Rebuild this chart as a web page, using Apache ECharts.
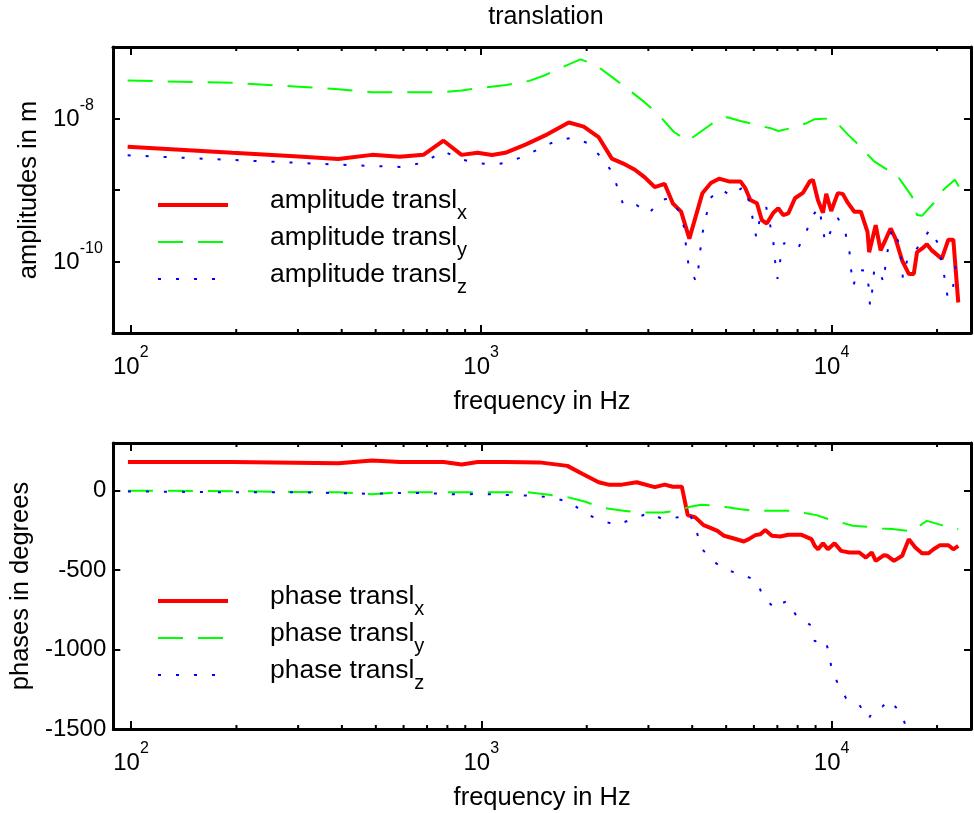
<!DOCTYPE html>
<html><head><meta charset="utf-8">
<script src="https://cdn.jsdelivr.net/npm/echarts@6/dist/echarts.min.js"></script>
<style>html,body{margin:0;padding:0;background:#fff}#c{width:974px;height:813px}</style>
</head><body><div id="c"></div><script>
// ---------- data (frequencies in Hz) ----------
const ampXFreq = [98,195,293,391,488,586,684,781,879,977,1074,1172,1343,1545,1779,1962,2163,2360,2545,2746,2931,3128,3338,3523,3721,3928,4280,4523,4773,5093,5495,5675,5865,6124,6324,6532,6823,7047,7278,7527,7863,8299,8670,8851,9141,9450,9656,9975,10420,10765,11120,11614,12120,12664,12803,13365,13804,14264,14738,15225,15904,16612,17162,17534,18113,18711,19330,20627,21544,22259,22994];
const ampX = [4.03e-9,3.31e-9,2.96e-9,2.72e-9,3.10e-9,2.91e-9,3.10e-9,4.89e-9,3.10e-9,3.31e-9,3.08e-9,3.31e-9,4.34e-9,6.0e-9,8.79e-9,7.71e-9,5.50e-9,2.75e-9,2.34e-9,1.92e-9,1.50e-9,1.10e-9,1.22e-9,6.52e-10,4.97e-10,2.09e-10,9.03e-10,1.25e-9,1.44e-9,1.32e-9,1.32e-9,1.06e-9,7.26e-10,6.52e-10,3.79e-10,3.40e-10,4.81e-10,5.55e-10,4.46e-10,4.71e-10,7.67e-10,9.20e-10,1.32e-9,1.38e-9,7.26e-10,4.81e-10,8.83e-10,5.08e-10,9.04e-10,8.83e-10,6.65e-10,4.97e-10,4.97e-10,2.59e-10,1.35e-10,3.22e-10,1.43e-10,2.02e-10,2.90e-10,2.09e-10,1.03e-10,6.70e-11,6.70e-11,1.35e-10,1.51e-10,1.74e-10,1.43e-10,1.09e-10,2.02e-10,2.02e-10,2.67e-11];

const ampYFreq = [98,195,293,391,488,586,684,781,879,1002,1179,1372,1514,1667,1920,2117,2385,2602,2931,3196,3549,3884,4329,4773,5039,5495,6124,6745,7047,7775,8480,8954,9872,10304,11120,11995,12523,13228,14424,14902,15565,16077,16970,17534,18113,19543,20627,21073,22491,23084];
const ampY = [3.40e-8,3.15e-8,2.81e-8,2.56e-8,2.33e-8,2.33e-8,2.33e-8,2.33e-8,2.47e-8,2.68e-8,2.95e-8,3.36e-8,3.99e-8,4.97e-8,6.71e-8,5.65e-8,3.67e-8,2.65e-8,1.68e-8,1.15e-8,6.47e-9,4.83e-9,7.06e-9,1.0e-8,1.04e-8,9.25e-9,8.13e-9,7.23e-9,6.68e-9,7.46e-9,8.59e-9,9.77e-9,1.0e-8,8.95e-9,6.0e-9,4.20e-9,3.31e-9,2.52e-9,1.92e-9,1.55e-9,1.47e-9,1.18e-9,8.09e-10,4.46e-10,4.35e-10,6.52e-10,9.51e-10,1.06e-9,1.39e-9,1.12e-9];

const ampZFreq = [98,195,293,391,586,684,781,879,977,1074,1172,1328,1464,1632,1819,2027,2187,2360,2454,2545,2776,3008,3267,3449,3680,3802,3844,3909,4102,4164,4219,4280,4501,4827,5171,5616,5840,5967,6100,6232,6510,6682,6827,6902,7006,7158,7318,8031,8444,8814,9208,9407,9593,9909,10418,10952,11241,11361,11538,11921,12523,12803,12871,13083,13228,13665,14052,14264,14519,14902,15565,15830,15975,16425,17045,18027,19110,20191,20627,21073,21450,22115,22407,22746];
const ampZ = [3.06e-9,2.63e-9,2.41e-9,2.26e-9,2.10e-9,2.41e-9,3.49e-9,2.67e-9,2.39e-9,2.26e-9,2.39e-9,2.96e-9,3.77e-9,4.83e-9,5.40e-9,4.48e-9,2.96e-9,1.82e-9,1.06e-9,6.17e-10,6.17e-10,4.71e-10,7.26e-10,7.67e-10,4.97e-10,2.90e-10,1.59e-10,8.79e-11,5.27e-11,7.64e-11,1.40e-10,2.46e-10,7.67e-10,1.03e-9,8.26e-10,1.12e-9,6.52e-10,3.79e-10,2.16e-10,3.79e-10,5.73e-10,3.22e-10,1.81e-10,1.01e-10,5.70e-11,1.13e-10,1.81e-10,1.54e-10,2.51e-10,4.31e-10,5.73e-10,3.22e-10,1.84e-10,2.54e-10,4.08e-10,2.51e-10,1.43e-10,7.87e-11,4.58e-11,7.64e-11,7.46e-11,4.12e-11,2.39e-11,4.12e-11,7.46e-11,7.89e-11,5.11e-11,9.08e-11,1.63e-10,2.90e-10,1.81e-10,1.03e-10,5.89e-11,1.03e-10,1.22e-10,1.90e-10,2.80e-10,1.74e-10,9.77e-11,5.52e-11,3.13e-11,3.50e-11,6.34e-11,1.13e-10];

const phXFreq = [98,195,293,391,488,586,684,781,879,977,1172,1465,1761,1941,2163,2308,2518,2776,3128,3338,3523,3736,3884,4083,4310,4473,4721,4931,5262,5616,5801,6060,6259,6465,6752,7133,7527,8209,8759,8954,9148,9450,9761,10195,10644,11241,12000,12523,13022,13365,14118,14424,15066,15904,16612,17338,18113,18918,19543,20399,21544,22259,22994];
const phX = [180,180,176,172,190,180,180,180,165,180,180,178,156,106,53,38,38,53,22,38,25,25,-154,-168,-217,-231,-253,-284,-301,-320,-305,-280,-274,-248,-284,-288,-278,-278,-305,-348,-369,-331,-369,-331,-379,-389,-389,-421,-389,-442,-406,-410,-442,-410,-305,-358,-394,-394,-369,-343,-343,-369,-348];

const phYFreq = [98,195,293,391,488,586,977,1172,1350,1497,1742,1984,2187,2545,2837,3300,3656,3884,4238,4721,5039,5436,5994,7052,7863,8388,9047,9975,10644,11488,12664,13955,14902,16425,17418,18113,18711,20627,22014,22994];
const phY = [0,-3,-8,-10,-22,-10,-10,-10,-10,-21,-38,-70,-105,-126,-137,-137,-126,-105,-88,-95,-105,-116,-126,-126,-126,-141,-154,-185,-200,-221,-228,-238,-242,-253,-248,-210,-190,-217,-225,-242];

const phZFreq = [98,195,293,391,488,586,684,879,977,1172,1433,1604,1799,1962,2187,2423,2698,3008,3300,3639,3927,4102,4238,4523,4953,5554,6124,6368,6902,7133,7478,7945,8670,8954,9553,9761,9900,9975,10418,10995,11995,12748,13228,13955,14582,15830,16425,17500];
const phZ = [-5,-10,-10,-15,-20,-15,-15,-25,-20,-27,-32,-46,-73,-141,-185,-217,-179,-141,-179,-168,-141,-242,-358,-432,-497,-527,-569,-667,-743,-712,-695,-790,-843,-948,-935,-996,-1060,-1110,-1216,-1306,-1348,-1437,-1375,-1359,-1317,-1401,-1509,-1650];

const minorTickHz = [200,300,400,500,600,700,800,900,2000,3000,4000,5000,6000,7000,8000,9000,20000];
const phaseTicks = [0,-500,-1000,-1500];

// ---------- chart ----------
const FONT = "'Liberation Sans', Arial, Helvetica, sans-serif";
const zip = (f, v) => f.map((x, i) => [x, v[i]]);

function powLabel(v, onlyEven) {
  const l = Math.log10(v), e = Math.round(l);
  if (Math.abs(l - e) > 1e-6) return '';
  if (onlyEven && e % 2 !== 0) return '';
  return '{b|10}{s|' + e + '}';
}
const supRich = {
  b: { fontSize: 24, fontFamily: FONT, color: '#000', lineHeight: 34, verticalAlign: 'bottom' },
  s: { fontSize: 16, fontFamily: FONT, color: '#000', verticalAlign: 'top' }
};
const frameLine = { show: true, onZero: false, lineStyle: { color: '#000', width: 3 } };
const tickStyle = { color: '#000', width: 2 };

function xAxes(grid) {
  return [
    { gridIndex: grid, type: 'log', logBase: 10, min: 89, max: 25000, position: 'bottom',
      axisLine: frameLine, axisTick: { inside: true, length: 8, lineStyle: tickStyle },
      axisLabel: { formatter: v => powLabel(v, false), rich: supRich, margin: 12 },
      splitLine: { show: false },
      name: 'frequency in Hz', nameLocation: 'middle', nameGap: 56,
      nameTextStyle: { fontSize: 25.5, fontFamily: FONT, color: '#000' } },
    { gridIndex: grid, type: 'log', logBase: 10, min: 89, max: 25000, position: 'top',
      axisLine: frameLine, axisTick: { inside: true, length: 8, lineStyle: tickStyle },
      axisLabel: { show: false }, splitLine: { show: false } }
  ];
}

function legendFmt(name) {
  const i = name.lastIndexOf('_');
  return '{b|' + name.slice(0, i) + '}{s|' + name.slice(i + 1) + '}';
}
const legRich = {
  b: { fontSize: 26.5, fontFamily: FONT, color: '#000', verticalAlign: 'top', lineHeight: 36, padding: [0, 0, 0, 37] },
  s: { fontSize: 20, fontFamily: FONT, color: '#000', verticalAlign: 'bottom' }
};

function minorTickSeries(xi, yi, yRef) {
  return {
    type: 'custom', xAxisIndex: xi, yAxisIndex: yi, silent: true, z: 10, clip: false,
    data: minorTickHz.map(f => [f, yRef]),
    renderItem: function (params, api) {
      const x = api.coord([api.value(0), api.value(1)])[0];
      const cs = params.coordSys;
      const st = { stroke: '#000', lineWidth: 2 };
      return { type: 'group', children: [
        { type: 'line', shape: { x1: x, y1: cs.y + cs.height, x2: x, y2: cs.y + cs.height - 4 }, style: st },
        { type: 'line', shape: { x1: x, y1: cs.y, x2: x, y2: cs.y + 4 }, style: st }
      ] };
    }
  };
}

const RED = '#ff0000', GREEN = '#00ff00', BLUE = '#0000ff';
function lineSeries(name, f, v, xi, yi, color, width, dash) {
  return { name: name, type: 'line', xAxisIndex: xi, yAxisIndex: yi, data: zip(f, v),
    symbol: 'none', showSymbol: false, animation: false, clip: true,
    color: color, itemStyle: { color: color }, lineStyle: { color: color, width: width, type: dash } };
}

function legendItems(prefix) {
  return [
    { name: prefix + '_x', lineStyle: { color: RED, width: 4, type: 'solid' } },
    { name: prefix + '_y', lineStyle: { color: GREEN, width: 2, type: [25, 15] } },
    { name: prefix + '_z', lineStyle: { color: BLUE, width: 2, type: [3, 15] } }
  ];
}

const legendBase = {
  orient: 'vertical', left: 156, padding: 0, itemWidth: 70, itemHeight: 14, itemGap: 1,
  selectedMode: false, formatter: legendFmt, textStyle: { rich: legRich },
  itemStyle: { opacity: 0, borderWidth: 0 }
};

const chart = echarts.init(document.getElementById('c'), null, { renderer: 'canvas' });
chart.setOption({
  backgroundColor: '#fff',
  animation: false,
  textStyle: { fontFamily: FONT },
  grid: [
    { left: 113, top: 47, width: 866, height: 286 },
    { left: 113, top: 443, width: 866, height: 286 }
  ],
  xAxis: [].concat(xAxes(0), xAxes(1)),
  yAxis: [
    { gridIndex: 0, type: 'log', logBase: 10, min: 1e-11, max: 1e-7, position: 'left',
      axisLine: frameLine, axisTick: { inside: true, length: 7, lineStyle: tickStyle },
      axisLabel: { formatter: v => powLabel(v, true), rich: supRich, align: 'left', margin: 60, padding: [0, 0, 8, 0] },
      splitLine: { show: false },
      name: 'amplitudes in m', nameLocation: 'middle', nameGap: 65, nameRotate: 90,
      nameTextStyle: { fontSize: 25.5, fontFamily: FONT, color: '#000' } },
    { gridIndex: 0, type: 'log', logBase: 10, min: 1e-11, max: 1e-7, position: 'right',
      axisLine: frameLine, axisTick: { inside: true, length: 7, lineStyle: tickStyle },
      axisLabel: { show: false }, splitLine: { show: false } },
    { gridIndex: 1, type: 'value', min: -1500, max: 300, interval: 500, position: 'left',
      axisLine: frameLine, axisTick: { inside: true, length: 7, lineStyle: tickStyle },
      axisLabel: { formatter: v => phaseTicks.indexOf(v) >= 0 ? String(v) : '', fontSize: 24, fontFamily: FONT, color: '#000', margin: 7 },
      splitLine: { show: false },
      name: 'phases in degrees', nameLocation: 'middle', nameGap: 79, nameRotate: 90,
      nameTextStyle: { fontSize: 25.5, fontFamily: FONT, color: '#000' } },
    { gridIndex: 1, type: 'value', min: -1500, max: 300, interval: 500, position: 'right',
      axisLine: frameLine, axisTick: { inside: true, length: 7, lineStyle: tickStyle },
      axisLabel: { show: false }, splitLine: { show: false } }
  ],
  legend: [
    Object.assign({}, legendBase, { top: 187, data: legendItems('amplitude transl') }),
    Object.assign({}, legendBase, { top: 583, data: legendItems('phase transl') })
  ],
  graphic: [
    { type: 'text', x: 546, y: 17, style: { text: 'translation', font: '25px ' + FONT, fill: '#000', align: 'center', verticalAlign: 'middle' } }
  ],
  series: [
    lineSeries('amplitude transl_x', ampXFreq, ampX, 0, 0, RED, 4, 'solid'),
    lineSeries('amplitude transl_y', ampYFreq, ampY, 0, 0, GREEN, 2, [25, 15]),
    lineSeries('amplitude transl_z', ampZFreq, ampZ, 0, 0, BLUE, 2, [3, 15]),
    lineSeries('phase transl_x', phXFreq, phX, 2, 2, RED, 4, 'solid'),
    lineSeries('phase transl_y', phYFreq, phY, 2, 2, GREEN, 2, [25, 15]),
    lineSeries('phase transl_z', phZFreq, phZ, 2, 2, BLUE, 2, [3, 15]),
    minorTickSeries(0, 0, 1e-9),
    minorTickSeries(2, 2, 0)
  ]
});
</script></body></html>
